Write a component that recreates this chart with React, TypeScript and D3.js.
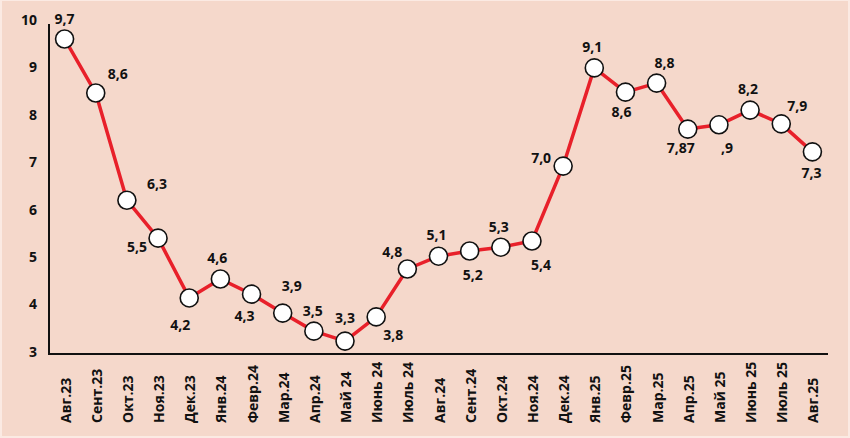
import React from "react";
import * as d3 from "d3";

const months = [
  "Авг.23", "Сент.23", "Окт.23", "Ноя.23", "Дек.23", "Янв.24", "Февр.24", "Мар.24",
  "Апр.24", "Май 24", "Июнь 24", "Июль 24", "Авг.24", "Сент.24", "Окт.24", "Ноя.24",
  "Дек.24", "Янв.25", "Февр.25", "Мар.25", "Апр.25", "Май 25", "Июнь 25", "Июль 25", "Авг.25",
];
const values = [
  9.6, 8.46, 6.2, 5.4, 4.14, 4.54, 4.22, 3.82, 3.44, 3.23, 3.74, 4.75, 5.02, 5.13, 5.21, 5.34,
  6.92, 8.99, 8.48, 8.67, 7.7, 7.79, 8.1, 7.81, 7.22,
];
const labels = [
  "9,7", "8,6", "6,3", "5,5", "4,2", "4,6", "4,3", "3,9", "3,5", "3,3", "3,8", "4,8", "5,1",
  "5,2", "5,3", "5,4", "7,0", "9,1", "8,6", "8,8", "7,87", ",9", "8,2", "7,9", "7,3",
];
const yTicks = [3, 4, 5, 6, 7, 8, 9, 10];

// label offsets (styling) relative to each point
const labelOffsets: [number, number][] = [
  [0, -20], [22, -19], [30, -16], [-21, 9], [-9, 27], [-3, -21], [-7, 22], [9, -27],
  [-1, -20], [0, -23], [17, 18], [-15, -17], [-2, -21], [3, 24], [-2, -20], [9, 24],
  [-22, -8], [-2, -21], [-4, 20], [8, -20], [-7, 19], [8, 23], [-2, -21], [16, -18], [-1, 21],
];

const W = 850;
const H = 438;
const left = 49;
const right = 828;
const axisY = 354;
const font = "'Open Sans', 'DejaVu Sans', sans-serif";

export default function App() {
  const x = d3.scaleBand<string>().domain(months).range([left, right]).padding(0);
  const y = d3.scaleLinear().domain([3, 10]).range([352, 20]);
  const cx = (i: number) => (x(months[i]) as number) + x.bandwidth() / 2;
  const line = d3
    .line<number>()
    .x((_, i) => cx(i))
    .y((d) => y(d));

  return (
    <div style={{ position: "absolute", left: 0, top: 0 }}>
      <svg width={W} height={H} style={{ display: "block" }}>
        <rect x={0} y={0} width={W} height={H} fill="#fbeae3" />
        <rect x={2} y={1} width={W - 4} height={H - 3} fill="#f5d8cb" />
        {yTicks.map((t) => (
          <text
            key={t}
            x={37}
            y={y(t)}
            dy="0.35em"
            textAnchor="end"
            fontFamily={font}
            fontWeight={700}
            fontSize={14}
            fill="#111"
          >
            {t}
          </text>
        ))}
        <line x1={left} x2={left} y1={24} y2={axisY + 1} stroke="#111" strokeWidth={2} />
        <line x1={left} x2={right} y1={axisY} y2={axisY} stroke="#111" strokeWidth={2} />
        {months.map((m, i) => (
          <text
            key={m}
            transform={`translate(${cx(i) + 6},423) rotate(-90)`}
            textAnchor="start"
            fontFamily={font}
            fontWeight={700}
            fontSize={14}
            fill="#111"
          >
            {m}
          </text>
        ))}
        <path d={line(values) || ""} fill="none" stroke="#e8202a" strokeWidth={3.5} strokeLinejoin="round" />
        {values.map((v, i) => (
          <circle key={i} cx={cx(i)} cy={y(v)} r={9} fill="#fff" stroke="#111" strokeWidth={1.6} />
        ))}
        {values.map((v, i) => (
          <text
            key={"l" + i}
            x={cx(i) + labelOffsets[i][0]}
            y={y(v) + labelOffsets[i][1]}
            dy="0.35em"
            textAnchor="middle"
            fontFamily={font}
            fontWeight={700}
            fontSize={14}
            fill="#111"
          >
            {labels[i]}
          </text>
        ))}
      </svg>
    </div>
  );
}
